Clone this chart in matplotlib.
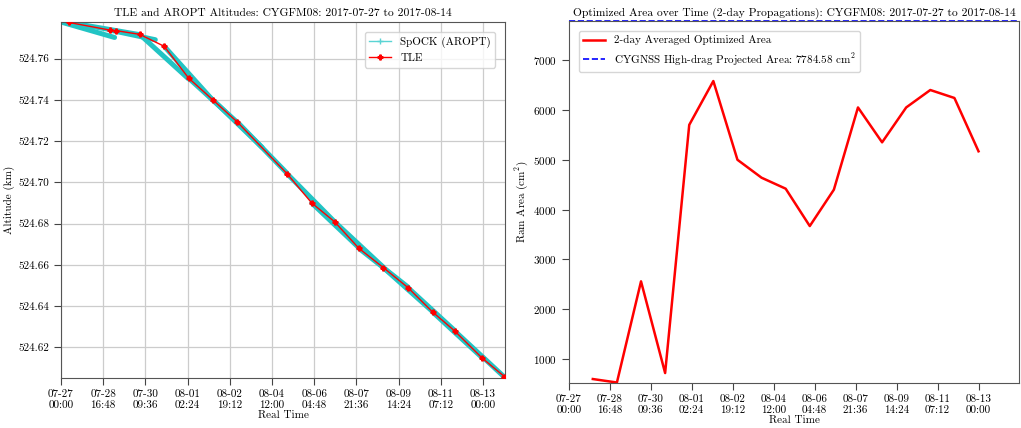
import datetime as dt
import numpy as np
import matplotlib
matplotlib.use('Agg')
import matplotlib.pyplot as plt
import matplotlib.dates as mdates
from matplotlib.lines import Line2D

plt.rcParams['font.family'] = 'serif'
plt.rcParams['font.serif'] = ['cmr10']
plt.rcParams['mathtext.fontset'] = 'cm'
plt.rcParams['axes.formatter.use_mathtext'] = True
plt.rcParams['axes.unicode_minus'] = False

t0 = dt.datetime(2017, 7, 27, 0, 0)
sat = 'CYGFM08'

# TLE altitudes (days since start, km)
tle_days = [0.31, 1.96, 2.23, 3.17, 4.16, 5.14, 6.12, 7.11, 9.10, 10.10,
            11.02, 12.00, 12.99, 13.98, 14.97, 15.86, 16.97, 17.86]
tle_alt = [524.7776, 524.7739, 524.7736, 524.7718, 524.7660, 524.7506,
           524.7400, 524.7292, 524.7043, 524.6900, 524.6809, 524.6680,
           524.6586, 524.6489, 524.6371, 524.6279, 524.6147, 524.6058]

# SpOCK (AROPT) 2-day propagations: start/end day, start/end altitude
spock_t_start = [0.00, 0.31, 1.96, 3.17, 4.16, 5.14, 6.12, 7.11, 9.10,
                 10.10, 11.02, 12.00, 12.99, 13.98, 14.97, 15.86]
spock_t_end = [2.16, 3.20, 3.80, 5.14, 6.12, 7.11, 8.10, 9.10, 11.02,
               12.00, 12.99, 13.98, 14.97, 15.86, 16.97, 17.90]
spock_a_start = [524.7778, 524.7776, 524.7739, 524.7718, 524.7660, 524.7506,
                 524.7400, 524.7292, 524.7043, 524.6900, 524.6809, 524.6680,
                 524.6586, 524.6489, 524.6371, 524.6279]
spock_a_end = [524.7703, 524.7716, 524.7692, 524.7502, 524.7398, 524.7290,
               524.7170, 524.7045, 524.6809, 524.6683, 524.6588, 524.6492,
               524.6373, 524.6281, 524.6149, 524.6051]

# 2-day averaged optimized ram area (cm^2)
area_days = list(range(1, 18))
area_vals = [600, 530, 2560, 720, 5700, 6580, 5000, 4640, 4420, 3670,
             4400, 6050, 5350, 6050, 6400, 6240, 5170]
high_drag_area = 7784.58


def to_dates(days):
    return [t0 + dt.timedelta(days=float(d)) for d in days]


tick_dates = to_dates(np.arange(11) * 1.7)
fmt = mdates.DateFormatter('%m-%d\n%H:%M')

fig = plt.figure(figsize=(10.21, 4.28), dpi=100)
ax1 = fig.add_axes([0.0597, 0.1168, 0.4353, 0.8318])
ax2 = fig.add_axes([0.557, 0.1058, 0.4413, 0.8451])

fs = 8
tfs = 8.3

# left: altitudes
cyan = '#22c4c4'
for ts, te, a_s, a_e in zip(spock_t_start, spock_t_end, spock_a_start, spock_a_end):
    ax1.plot(to_dates([ts, te]), [a_s, a_e], color=cyan, lw=3.6,
             solid_capstyle='round', zorder=2)
ax1.plot(to_dates(tle_days), tle_alt, color='red', lw=1, marker='P',
         markersize=3.5, zorder=3)

ax1.set_xlim(t0, t0 + dt.timedelta(days=17.9))
ax1.set_ylim(524.6051, 524.7778)
ax1.set_yticks([524.62, 524.64, 524.66, 524.68, 524.70, 524.72, 524.74, 524.76])
ax1.yaxis.set_major_formatter(matplotlib.ticker.FormatStrFormatter('%.2f'))
ax1.set_xticks(tick_dates)
ax1.xaxis.set_major_formatter(fmt)
ax1.grid(True, color='#cccccc', lw=0.9)
ax1.set_axisbelow(True)
ax1.tick_params(labelsize=fs, direction='out', length=5, color='#444444')
ax1.set_xlabel('Real Time', fontsize=fs, labelpad=0)
ax1.set_ylabel('Altitude (km)', fontsize=fs, labelpad=2)
ax1.set_title('TLE and AROPT Altitudes: %s: 2017-07-27 to 2017-08-14' % sat,
              fontsize=tfs, pad=4)
handles = [Line2D([], [], color='#5ad4d4', lw=1, marker='+', markersize=4),
           Line2D([], [], color='red', lw=1, marker='P', markersize=3.5)]
ax1.legend(handles, ['SpOCK (AROPT)', 'TLE'], loc='upper right', fontsize=fs,
           borderaxespad=0.9)

# right: optimized area
ax2.plot(to_dates(area_days), area_vals, color='red', lw=1.8,
         label='2-day Averaged Optimized Area')
ax2.axhline(high_drag_area, color='blue', ls='--', lw=1.2, clip_on=False,
            label='CYGNSS High-drag Projected Area: %.2f cm$^2$' % high_drag_area)
ax2.set_xlim(t0, t0 + dt.timedelta(days=18.69))
ax2.set_ylim(min(area_vals) - 4, high_drag_area)
ax2.set_yticks([1000, 2000, 3000, 4000, 5000, 6000, 7000])
ax2.set_xticks(tick_dates)
ax2.xaxis.set_major_formatter(fmt)
ax2.tick_params(labelsize=fs, direction='out', length=5, color='#444444')
ax2.set_xlabel('Real Time', fontsize=fs, labelpad=0)
ax2.set_ylabel('Ram Area (cm$^2$)', fontsize=fs, labelpad=2)
ax2.set_title('Optimized Area over Time (2-day Propagations): %s: 2017-07-27 to 2017-08-14' % sat,
              fontsize=tfs, pad=4)
ax2.legend(loc='upper left', fontsize=fs, borderaxespad=0.9)

for ax in (ax1, ax2):
    for s in ax.spines.values():
        s.set_color('#555555')

fig.savefig('out.png', dpi=100)
